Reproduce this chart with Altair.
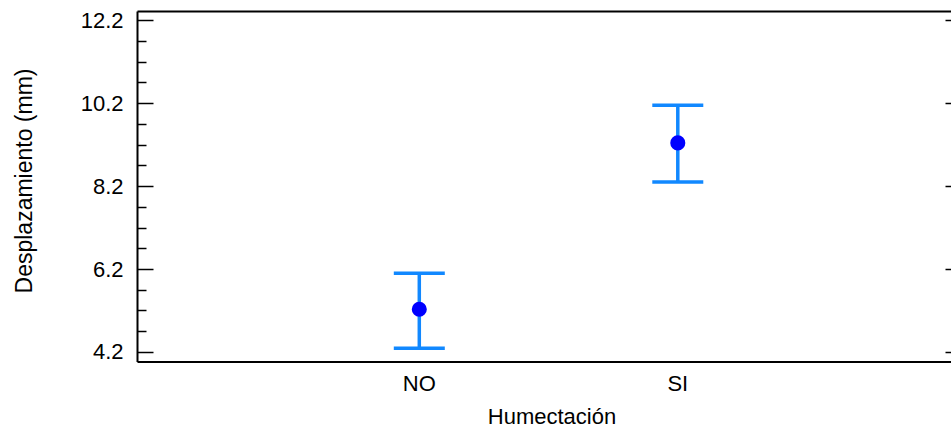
import altair as alt
import pandas as pd

# ---- data ----
categories = ["NO", "SI"]
means = [5.23, 9.24]
lower = [4.29, 8.30]
upper = [6.10, 10.15]
major_ticks = [4.2, 6.2, 8.2, 10.2, 12.2]
minor_ticks = [4.7, 5.2, 5.7, 6.7, 7.2, 7.7, 8.7, 9.2, 9.7, 10.7, 11.2, 11.7]
y_domain = [3.97, 12.42]

df = pd.DataFrame({"Humectacion": categories, "mean": means,
                   "lower": lower, "upper": upper})

FONT = "Arial"
BAR = "#1188FF"
DOT = "#0000FF"
FS = 22

xscale = alt.Scale(type="band", domain=categories, paddingInner=0,
                   paddingOuter=0.5745, align=0.5153)
yscale = alt.Scale(domain=y_domain, zero=False, nice=False)

x_bottom = alt.Axis(title="Humectación", orient="bottom", labelAngle=0, ticks=False,
                    tickSize=0, labelPadding=12, grid=False, domain=True,
                    domainColor="black", domainWidth=2, labelFont=FONT,
                    labelFontSize=FS, labelColor="black", titleFont=FONT,
                    titleFontSize=FS, titleFontWeight="normal", titleColor="black",
                    titleX=414.5, titleY=54.5, titleBaseline="middle",
                    titleAlign="center")
x_top = alt.Axis(title=None, orient="top", labels=False, ticks=False, grid=False,
                 domain=True, domainColor="black", domainWidth=2)

y_main = alt.Axis(title="Desplazamiento (mm)", orient="left", values=major_ticks,
                  ticks=False, tickSize=0, labelPadding=14, grid=False, domain=True,
                  domainColor="black", domainWidth=2, labelFont=FONT,
                  labelFontSize=FS, labelColor="black", format=".1f",
                  titleFont=FONT, titleFontSize=23, titleFontWeight="normal",
                  titleColor="black", titleX=-113, titleY=169.5,
                  titleBaseline="middle", titleAlign="center")
y_major = alt.Axis(title=None, orient="left", values=major_ticks, offset=-16,
                   tickSize=16, tickWidth=1.5, tickColor="black", labels=False,
                   domain=False, grid=False)
y_minor = alt.Axis(title=None, orient="left", values=minor_ticks, offset=-9,
                   tickSize=9, tickWidth=1.5, tickColor="black", labels=False,
                   domain=False, grid=False)
y_right = alt.Axis(title=None, orient="right", values=major_ticks, offset=-6,
                   tickSize=6, tickWidth=1.5, tickColor="black", labels=False,
                   domain=False, grid=False)

base = alt.Chart(df)

bars = base.mark_rule(color=BAR, strokeWidth=3.5).encode(
    x=alt.X("Humectacion:N", scale=xscale, sort=categories, axis=x_bottom),
    y=alt.Y("lower:Q", scale=yscale, axis=y_main),
    y2="upper:Q",
)
cap_hi = base.mark_tick(color=BAR, size=51, thickness=3.5, opacity=1,
                        orient="horizontal").encode(
    x=alt.X("Humectacion:N", scale=xscale, sort=categories, axis=x_top),
    y=alt.Y("upper:Q", scale=yscale, axis=y_major),
)
cap_lo = base.mark_tick(color=BAR, size=51, thickness=3.5, opacity=1,
                        orient="horizontal").encode(
    x=alt.X("Humectacion:N", scale=xscale, sort=categories, axis=None),
    y=alt.Y("lower:Q", scale=yscale, axis=y_minor),
)
dots = base.mark_circle(color=DOT, size=227, opacity=1).encode(
    x=alt.X("Humectacion:N", scale=xscale, sort=categories, axis=None),
    y=alt.Y("mean:Q", scale=yscale, axis=y_right),
)

chart = alt.layer(bars, cap_hi, cap_lo, dots).resolve_axis(
    x="independent", y="independent"
).properties(
    width=814, height=350.5,
    autosize=alt.AutoSizeParams(type="none"),
    padding={"left": 137, "top": 11, "right": 0, "bottom": 65.5},
    background="white",
).configure_view(stroke=None)

chart.save("out.html", embed_options={"renderer": "svg", "actions": False})
